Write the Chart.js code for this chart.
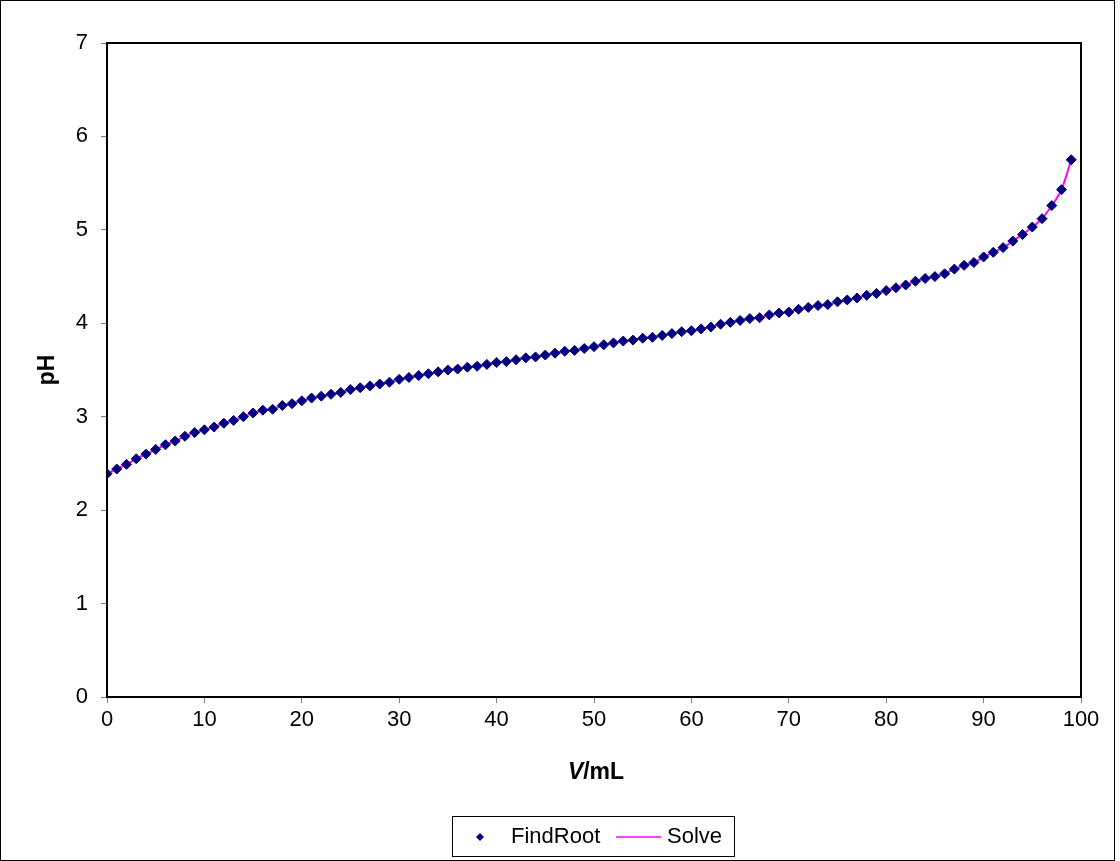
<!DOCTYPE html>
<html>
<head>
<meta charset="utf-8">
<script src="https://cdn.jsdelivr.net/npm/chart.js@4/dist/chart.umd.min.js"></script>
<style>
  html, body { margin: 0; padding: 0; background: #fff; }
  #wrap { position: relative; width: 1120px; height: 861px; }
</style>
</head>
<body>
<div id="wrap"><canvas id="phChart"></canvas></div>
<script>
// V in mL, 0..99
const volumes = [];
for (let v = 0; v < 100; v++) volumes.push(v);

// pH
const findRootPH = [
  2.39, 2.44, 2.49, 2.55, 2.60, 2.65, 2.70, 2.74, 2.79, 2.83,
  2.86, 2.89, 2.93, 2.96, 3.00, 3.04, 3.07, 3.08, 3.12, 3.14,
  3.17, 3.20, 3.22, 3.24, 3.26, 3.29, 3.31, 3.33, 3.35, 3.37,
  3.40, 3.42, 3.44, 3.46, 3.48, 3.50, 3.51, 3.53, 3.54, 3.56,
  3.58, 3.59, 3.61, 3.63, 3.64, 3.66, 3.68, 3.70, 3.71, 3.73,
  3.75, 3.77, 3.79, 3.81, 3.82, 3.84, 3.85, 3.87, 3.89, 3.91,
  3.92, 3.94, 3.96, 3.99, 4.01, 4.03, 4.05, 4.06, 4.09, 4.11,
  4.12, 4.15, 4.17, 4.19, 4.20, 4.23, 4.25, 4.27, 4.30, 4.32,
  4.35, 4.38, 4.41, 4.45, 4.48, 4.50, 4.53, 4.58, 4.62, 4.65,
  4.71, 4.76, 4.81, 4.88, 4.95, 5.03, 5.12, 5.26, 5.43, 5.75
];
const solvePH = findRootPH.slice();

const xTicks = { min: 0, max: 100, step: 10 };
const yTicks = { min: 0, max: 7, step: 1 };

const FONT = "'Liberation Sans', Arial, sans-serif";

// frame, plot border, axis titles and the boxed legend
const decorPlugin = {
  id: 'decor',
  afterDraw(chart) {
    const ctx = chart.ctx;
    const a = chart.chartArea;
    ctx.save();
    // outer frame
    ctx.strokeStyle = '#000';
    ctx.lineWidth = 1;
    ctx.strokeRect(0.5, 0.5, 1114, 860);
    // plot border
    ctx.lineWidth = 2;
    ctx.strokeRect(a.left, a.top, a.right - a.left, a.bottom - a.top);

    // y title
    ctx.fillStyle = '#000';
    ctx.font = 'bold 23px ' + FONT;
    ctx.textAlign = 'center';
    ctx.textBaseline = 'middle';
    ctx.translate(48, (a.top + a.bottom) / 2);
    ctx.rotate(-Math.PI / 2);
    ctx.fillText('pH', 0, 0);
    ctx.setTransform(1, 0, 0, 1, 0, 0);

    // x title: italic V + /mL
    const cx = (a.left + a.right) / 2 + 2, ty = 773;
    ctx.textAlign = 'left';
    ctx.font = 'italic bold 23px ' + FONT;
    const w1 = ctx.measureText('V').width;
    ctx.font = 'bold 23px ' + FONT;
    const w2 = ctx.measureText('/mL').width;
    let sx = cx - (w1 + w2) / 2;
    ctx.font = 'italic bold 23px ' + FONT;
    ctx.fillText('V', sx, ty);
    ctx.font = 'bold 23px ' + FONT;
    ctx.fillText('/mL', sx + w1, ty);

    // legend
    ctx.lineWidth = 1;
    ctx.strokeStyle = '#000';
    ctx.strokeRect(452.5, 816.5, 282, 40);
    ctx.fillStyle = '#000080';
    ctx.beginPath();
    ctx.moveTo(480, 833); ctx.lineTo(484, 837); ctx.lineTo(480, 841); ctx.lineTo(476, 837);
    ctx.closePath(); ctx.fill();
    ctx.fillStyle = '#000';
    ctx.font = '22px ' + FONT;
    ctx.textBaseline = 'middle';
    ctx.fillText('FindRoot', 511, 837);
    ctx.strokeStyle = '#FF00FF';
    ctx.lineWidth = 1.5;
    ctx.beginPath(); ctx.moveTo(616, 837); ctx.lineTo(661, 837); ctx.stroke();
    ctx.fillText('Solve', 667, 837);
    ctx.restore();
  }
};

const ctx = document.getElementById('phChart').getContext('2d');
const phChart = new Chart(ctx, {
  type: 'scatter',
  data: {
    datasets: [{
      label: 'FindRoot',
      data: volumes.map((v, i) => ({ x: v, y: findRootPH[i] })),
      showLine: false,
      pointStyle: 'rectRot',
      pointRadius: 5,
      pointBackgroundColor: '#000080',
      pointBorderColor: '#000080',
      pointBorderWidth: 1
    }, {
      label: 'Solve',
      data: volumes.map((v, i) => ({ x: v, y: solvePH[i] })),
      showLine: true,
      borderColor: '#FF00FF',
      borderWidth: 2,
      pointRadius: 0,
      cubicInterpolationMode: 'monotone'
    }]
  },
  options: {
    responsive: true,
    maintainAspectRatio: false,
    animation: false,
    layout: { padding: { top: 43, right: 39, left: 0, bottom: 0 } },
    plugins: {
      legend: { display: false },
      tooltip: { enabled: false }
    },
    scales: {
      x: {
        type: 'linear',
        min: xTicks.min, max: xTicks.max,
        afterFit: s => { s.height = 164; },
        ticks: {
          stepSize: xTicks.step,
          color: '#000',
          font: { family: FONT, size: 22 },
          padding: 4,
          maxRotation: 0
        },
        grid: { drawOnChartArea: false, drawTicks: true, tickLength: 6, color: '#808080' },
        border: { display: true, color: '#000', width: 2 }
      },
      y: {
        min: yTicks.min, max: yTicks.max,
        afterFit: s => { s.width = 107; },
        ticks: {
          stepSize: yTicks.step,
          color: '#000',
          font: { family: FONT, size: 22 },
          padding: 13
        },
        grid: { drawOnChartArea: false, drawTicks: true, tickLength: 6, color: '#808080' },
        border: { display: true, color: '#000', width: 2 }
      }
    }
  },
  plugins: [decorPlugin]
});
</script>
</body>
</html>
